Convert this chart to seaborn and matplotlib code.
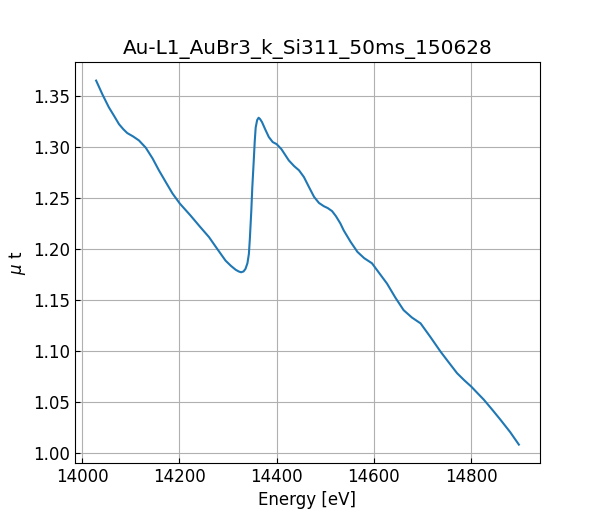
import seaborn as sns
import matplotlib.pyplot as plt
import pandas as pd

energy = [14029, 14042, 14055, 14066, 14076, 14085, 14093, 14105, 14117, 14131,
          14145, 14158, 14172, 14186, 14201, 14223, 14242, 14261, 14278, 14295,
          14306, 14316, 14322, 14327, 14332, 14336, 14340, 14343, 14345, 14348,
          14350, 14353, 14355, 14357, 14360, 14363, 14366, 14370, 14377, 14384,
          14392, 14400, 14410, 14425, 14436, 14446, 14456, 14466, 14477, 14487,
          14497, 14505, 14514, 14522, 14531, 14538, 14552, 14566, 14580, 14596,
          14610, 14627, 14644, 14661, 14678, 14696, 14716, 14737, 14754, 14771,
          14786, 14800, 14813, 14826, 14843, 14860, 14880, 14898]
mu_t = [1.3646, 1.3510, 1.3386, 1.3300, 1.3220, 1.3170, 1.3133, 1.3100, 1.3061, 1.2990,
        1.2885, 1.2769, 1.2655, 1.2542, 1.2444, 1.2327, 1.2220, 1.2116, 1.2000, 1.1886,
        1.1835, 1.1796, 1.1780, 1.1772, 1.1780, 1.1805, 1.1860, 1.1951, 1.2100, 1.2375,
        1.2600, 1.2863, 1.3050, 1.3188, 1.3260, 1.3283, 1.3270, 1.3240, 1.3165, 1.3094,
        1.3045, 1.3025, 1.2975, 1.2866, 1.2810, 1.2769, 1.2704, 1.2610, 1.2509, 1.2450,
        1.2418, 1.2400, 1.2370, 1.2320, 1.2250, 1.2181, 1.2070, 1.1972, 1.1910, 1.1860,
        1.1770, 1.1661, 1.1525, 1.1402, 1.1330, 1.1272, 1.1140, 1.0996, 1.0890, 1.0785,
        1.0715, 1.0655, 1.0590, 1.0526, 1.0430, 1.0331, 1.0210, 1.0087]

df = pd.DataFrame({"energy": energy, "mu_t": mu_t})

plt.rcParams["font.size"] = 12

fig, ax = plt.subplots(figsize=(6, 5.2), dpi=100)
sns.lineplot(data=df, x="energy", y="mu_t", color="#1f77b4", linewidth=1.5, ax=ax)

ax.set_title("Au-L1_AuBr3_k_Si311_50ms_150628", fontsize=14.4)
ax.set_xlabel("Energy [eV]", fontsize=12)
ax.set_ylabel(r"$\mu$ t", fontsize=12)
ax.tick_params(direction="in", labelsize=12)
ax.grid(True)

fig.savefig("out.png", dpi=100)
